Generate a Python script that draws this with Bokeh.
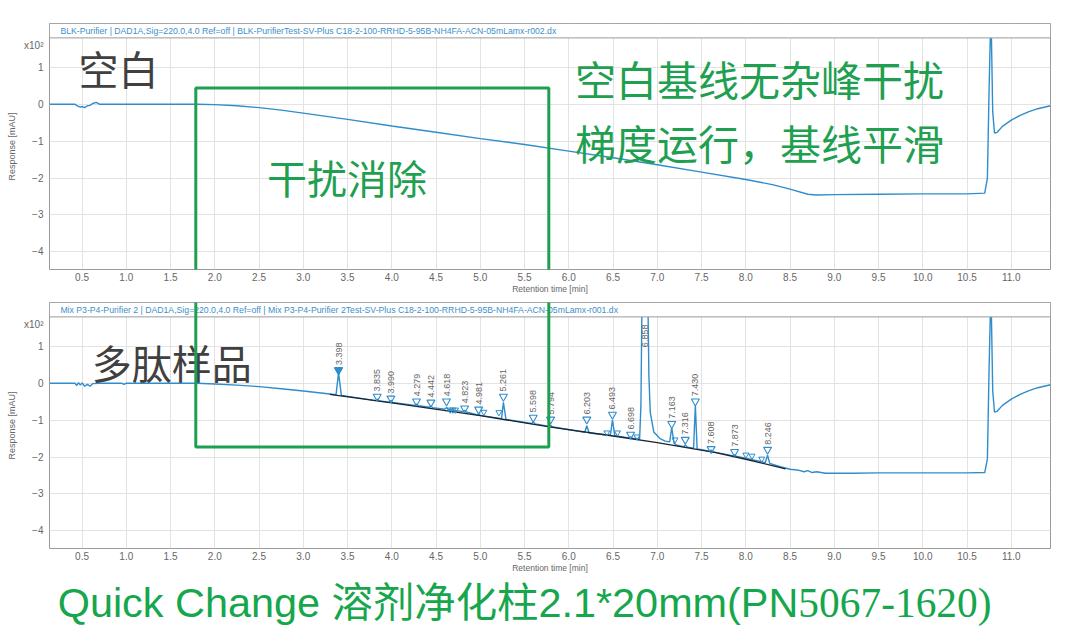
from math import pi
from bokeh.plotting import figure
from bokeh.layouts import column
from bokeh.models import (ColumnDataSource, FixedTicker, NumeralTickFormatter, Label,
                          BoxAnnotation, Range1d)
from bokeh.core.properties import value
from bokeh.embed import file_html
from bokeh.resources import INLINE

# ---------------- data ----------------
x_ticks = [0.5, 1.0, 1.5, 2.0, 2.5, 3.0, 3.5, 4.0, 4.5, 5.0, 5.5, 6.0, 6.5, 7.0, 7.5,
           8.0, 8.5, 9.0, 9.5, 10.0, 10.5, 11.0]
y_ticks = [-4, -3, -2, -1, 0, 1]
y_scale_tick = 1.6
y_scale_label = "x10²"

header_blank = ("BLK-Purifier | DAD1A,Sig=220.0,4.0 Ref=off | BLK-PurifierTest-SV-Plus "
                "C18-2-100-RRHD-5-95B-NH4FA-ACN-05mLamx-r002.dx")
header_sample = ("Mix P3-P4-Purifier 2 | DAD1A,Sig=220.0,4.0 Ref=off | Mix P3-P4-Purifier 2Test-SV-Plus "
                 "C18-2-100-RRHD-5-95B-NH4FA-ACN-05mLamx-r001.dx")

# blank run (response in x10^2 mAU)
blank_time = [0.132, 0.42, 0.45, 0.48, 0.50, 0.53, 0.56, 0.59, 0.62, 0.66, 0.70, 1.00, 1.50,
              1.80, 2.00, 2.25, 2.50, 2.75, 3.00, 3.50, 4.00, 4.50, 5.00, 5.50, 6.00, 6.50,
              7.00, 7.50, 8.00, 8.30, 8.50, 8.70, 8.80, 9.00, 9.50, 10.00, 10.50, 10.70,
              10.73, 10.75, 10.77, 10.79, 10.81, 10.84, 10.90, 11.00, 11.10, 11.20, 11.30, 11.443]
blank_resp = [0.00, 0.00, -0.05, -0.08, -0.06, -0.09, -0.04, -0.03, 0.02, 0.05, 0.00, 0.00, 0.00,
              0.00, -0.01, -0.04, -0.09, -0.16, -0.24, -0.41, -0.59, -0.76, -0.93, -1.09, -1.27, -1.45,
              -1.64, -1.84, -2.04, -2.18, -2.30, -2.44, -2.46, -2.45, -2.44, -2.43, -2.43, -2.41,
              -2.00, 0.50, 2.60, -0.20, -0.78, -0.76, -0.60, -0.43, -0.30, -0.20, -0.12, -0.04]

# peptide sample run
sample_time = [0.132, 0.42, 0.44, 0.46, 0.48, 0.50, 0.53, 0.56, 0.59, 0.62, 0.70, 0.95, 0.97, 1.00,
               1.80, 2.00, 2.25, 2.50, 2.75, 3.00,
               3.30, 3.37, 3.398, 3.43, 3.60,
               3.82, 3.835, 3.86, 3.97, 3.99, 4.01,
               4.26, 4.279, 4.30, 4.43, 4.442, 4.46,
               4.60, 4.618, 4.64, 4.81, 4.823, 4.84,
               4.97, 4.981, 5.00, 5.24, 5.261, 5.29,
               5.58, 5.598, 5.62, 5.78, 5.794, 5.81,
               6.18, 6.203, 6.23, 6.47, 6.493, 6.52,
               6.68, 6.698, 6.72, 6.80, 6.815, 6.83, 6.89, 6.905, 6.92, 6.96, 7.03, 7.09,
               7.14, 7.163, 7.19, 7.22, 7.30, 7.316, 7.34, 7.41, 7.430, 7.45,
               7.59, 7.608, 7.63, 7.86, 7.873, 7.89, 8.22, 8.246, 8.27, 8.40, 8.50,
               8.60, 8.66, 8.70, 8.75, 8.80, 8.90, 9.20, 9.50, 10.00, 10.50, 10.70,
               10.73, 10.75, 10.77, 10.79, 10.81, 10.84, 10.90, 11.00, 11.10, 11.20, 11.30, 11.443]
sample_resp = [0.00, 0.00, -0.06, 0.02, -0.05, 0.01, -0.08, -0.03, -0.08, -0.01, 0.00, 0.00, -0.03, 0.00,
               0.00, -0.02, -0.05, -0.09, -0.15, -0.21,
               -0.29, -0.31, 0.28, -0.33, -0.39,
               -0.47, -0.43, -0.48, -0.51, -0.47, -0.52,
               -0.60, -0.56, -0.61, -0.65, -0.61, -0.66,
               -0.70, -0.66, -0.71, -0.77, -0.73, -0.78,
               -0.86, -0.82, -0.87, -0.96, -0.52, -0.98,
               -1.09, -1.05, -1.10, -1.17, -1.13, -1.18,
               -1.33, -1.15, -1.35, -1.41, -1.00, -1.42,
               -1.48, -1.45, -1.49, -1.51, -0.60, 3.00, 3.00, 0.20, -0.78, -1.32, -1.50, -1.57,
               -1.59, -1.20, -1.63, -1.68, -1.72, -1.67, -1.73, -1.76, -0.60, -1.78,
               -1.84, -1.81, -1.86, -1.97, -1.94, -1.98, -2.15, -1.95, -2.17, -2.27, -2.33,
               -2.36, -2.40, -2.37, -2.42, -2.40, -2.44, -2.44, -2.43, -2.43, -2.43, -2.42,
               -2.05, 0.50, 2.60, -0.20, -0.78, -0.76, -0.60, -0.43, -0.30, -0.20, -0.12, -0.04]

# integration baseline under the peaks
base_time = [3.30, 4.00, 5.00, 5.78, 6.50, 7.00, 7.66, 8.00, 8.45]
base_resp = [-0.30, -0.53, -0.88, -1.18, -1.43, -1.61, -1.88, -2.06, -2.32]

# labelled peaks: retention time, marker level, label
peak_rt = [3.398, 3.835, 3.990, 4.279, 4.442, 4.618, 4.823, 4.981, 5.261, 5.598, 5.794,
           6.203, 6.493, 6.698, 7.163, 7.316, 7.430, 7.608, 7.873, 8.246]
peak_mark = [0.36, -0.36, -0.41, -0.49, -0.52, -0.49, -0.68, -0.71, -0.36, -0.93, -0.98,
             -0.98, -0.85, -1.39, -1.10, -1.53, -0.49, -1.78, -1.86, -1.80]
peak_label = ["3.398", "3.835", "3.990", "4.279", "4.442", "4.618", "4.823", "4.981", "5.261",
              "5.598", "5.794", "6.203", "6.493", "6.698", "7.163", "7.316", "7.430", "7.608",
              "7.873", "8.246"]
# unlabelled peak marks
minor_rt = [4.66, 4.69, 4.72, 5.04, 5.21, 6.43, 6.55, 6.77, 7.20, 8.00, 8.07, 8.18]
minor_mark = [-0.72, -0.72, -0.72, -0.78, -0.79, -1.34, -1.34, -1.45, -1.53, -1.94, -1.97, -2.05]
main_peak_rt = 6.858

# ---------------- style ----------------
BLUE = "#2f8dcc"
HEAD_BLUE = "#3d8fc9"
GREEN = "#1ea050"
CAP_GREEN = "#16a64c"
DARK = "#404040"
GRAY_TXT = "#666666"
X0, X1 = 0.132, 11.443
Y0, Y1 = -4.48, 2.19
HEAD_Y = 1.80
SANS = "Liberation Sans"
CJK = "Noto Sans CJK SC"


def make_panel(height, top_border, header, trace_t, trace_r):
    p = figure(width=1064, height=height, x_range=Range1d(X0, X1), y_range=Range1d(Y0, Y1),
               output_backend="svg", toolbar_location=None,
               min_border_left=49, min_border_right=14, min_border_top=top_border,
               min_border_bottom=27)
    p.outline_line_color = "#9a9a9a"
    p.outline_line_width = 1
    p.background_fill_color = "white"
    p.border_fill_color = "white"

    p.xaxis.ticker = FixedTicker(ticks=x_ticks)
    p.xaxis.formatter = NumeralTickFormatter(format="0.0")
    p.yaxis.ticker = FixedTicker(ticks=y_ticks + [y_scale_tick])
    p.yaxis.major_label_overrides = {y_scale_tick: y_scale_label}
    p.xgrid.ticker = FixedTicker(ticks=x_ticks)
    p.ygrid.ticker = FixedTicker(ticks=y_ticks)
    p.grid.grid_line_color = "#e3e3e3"
    p.grid.grid_line_width = 1

    for ax in (p.xaxis[0], p.yaxis[0]):
        ax.axis_line_color = None
        ax.major_tick_line_color = None
        ax.minor_tick_line_color = None
        ax.major_tick_out = 0
        ax.major_tick_in = 0
        ax.minor_tick_out = 0
        ax.major_label_text_font = SANS
        ax.major_label_text_font_size = "10px"
        ax.major_label_text_color = GRAY_TXT
        ax.axis_label_text_font = SANS
        ax.axis_label_text_font_style = "normal"
        ax.axis_label_text_color = GRAY_TXT
        ax.axis_label_text_font_size = "8.5px"
    p.xaxis.axis_label = "Retention time [min]"
    p.xaxis.major_label_standoff = 3
    p.xaxis.axis_label_standoff = 0
    p.yaxis.axis_label = "Response [mAU]"
    p.yaxis.axis_label_text_font_size = "9px"
    p.yaxis.major_label_standoff = 6
    p.yaxis.axis_label_standoff = 4

    p.line(trace_t, trace_r, line_color=BLUE, line_width=1.4)

    # header strip
    p.quad(left=[X0], right=[X1], bottom=[HEAD_Y], top=[Y1], fill_color="white",
           line_color="#9a9a9a", line_width=1)
    p.add_layout(Label(x=0.255, y=(HEAD_Y + Y1) / 2, text=header, text_font=SANS,
                       text_font_size="8.7px", text_color=HEAD_BLUE, text_baseline="middle",
                       text_align="left"))
    return p


# ---------------- top: blank ----------------
p1 = make_panel(296, 23, header_blank, blank_time, blank_resp)
p1.add_layout(Label(x=0.46, y=0.99, text="空白", text_font=CJK, text_font_size="40px",
                    text_color=DARK, text_baseline="middle", text_align="left"))
p1.add_layout(Label(x=6.07, y=0.71, text="空白基线无杂峰干扰", text_font=CJK,
                    text_font_size="41px", text_color=GREEN, text_baseline="middle",
                    text_align="left"))
p1.add_layout(Label(x=6.07, y=-1.02, text="梯度运行，基线平滑", text_font=CJK,
                    text_font_size="41px", text_color=GREEN, text_baseline="middle",
                    text_align="left"))
p1.add_layout(Label(x=2.59, y=-1.98, text="干扰消除", text_font=CJK, text_font_size="40px",
                    text_color=GREEN, text_baseline="middle", text_align="left"))
p1.add_layout(BoxAnnotation(left=1.785, right=5.774, top=0.443, bottom=-40,
                            fill_alpha=0, line_color=GREEN, line_alpha=1.0, line_width=3,
                            level="overlay"))

# ---------------- bottom: sample ----------------
p2 = make_panel(279, 6, header_sample, sample_time, sample_resp)
p2.line(base_time, base_resp, line_color="#1b2533", line_width=1.3)

src = ColumnDataSource(dict(t=peak_rt, y=peak_mark, lab=peak_label))
p2.scatter("t", "y", source=src, marker="inverted_triangle", size=8, line_color=BLUE,
           fill_color=None, line_width=1.1)
p2.scatter([peak_rt[0]], [peak_mark[0]], marker="inverted_triangle", size=8, line_color=BLUE,
           fill_color=BLUE)
p2.scatter(minor_rt, minor_mark, marker="inverted_triangle", size=6, line_color=BLUE,
           fill_color=None, line_width=1.0)
p2.text("t", "y", text="lab", source=src, angle=pi / 2, text_align="left",
        text_baseline="middle", y_offset=-5, text_font=value(SANS),
        text_font_size="9px", text_color=GRAY_TXT)
p2.text([main_peak_rt], [0.98], text=["6.858"], angle=pi / 2, text_align="left",
        text_baseline="middle", text_font=value(SANS), text_font_size="9px",
        text_color=GRAY_TXT)
p2.add_layout(Label(x=0.61, y=0.58, text="多肽样品", text_font=CJK, text_font_size="40px",
                    text_color=DARK, text_baseline="middle", text_align="left"))
p2.add_layout(BoxAnnotation(left=1.785, right=5.774, top=40, bottom=-1.73,
                            fill_alpha=0, line_color=GREEN, line_alpha=1.0, line_width=3,
                            level="overlay"))

# ---------------- caption ----------------
p3 = figure(width=1064, height=60, x_range=Range1d(0, 1064), y_range=Range1d(0, 60),
            output_backend="svg", toolbar_location=None,
            min_border_left=0, min_border_right=0, min_border_top=0, min_border_bottom=0)
p3.axis.visible = False
p3.grid.visible = False
p3.outline_line_color = None
p3.add_layout(Label(x=796, y=33, text="Quick Change 溶剂净化柱2.1*20mm(PN",
                    text_font=SANS + ", " + CJK, text_font_size="41.4px", text_color=CAP_GREEN,
                    text_baseline="middle", text_align="right"))
p3.add_layout(Label(x=796, y=33, text="5067-1620)", text_font="Liberation Serif",
                    text_font_size="41.4px", text_color=CAP_GREEN, text_baseline="middle",
                    text_align="left"))

layout = column(p1, p2, p3, spacing=0)
open("out.html", "w").write(file_html(layout, INLINE, "chromatogram"))
